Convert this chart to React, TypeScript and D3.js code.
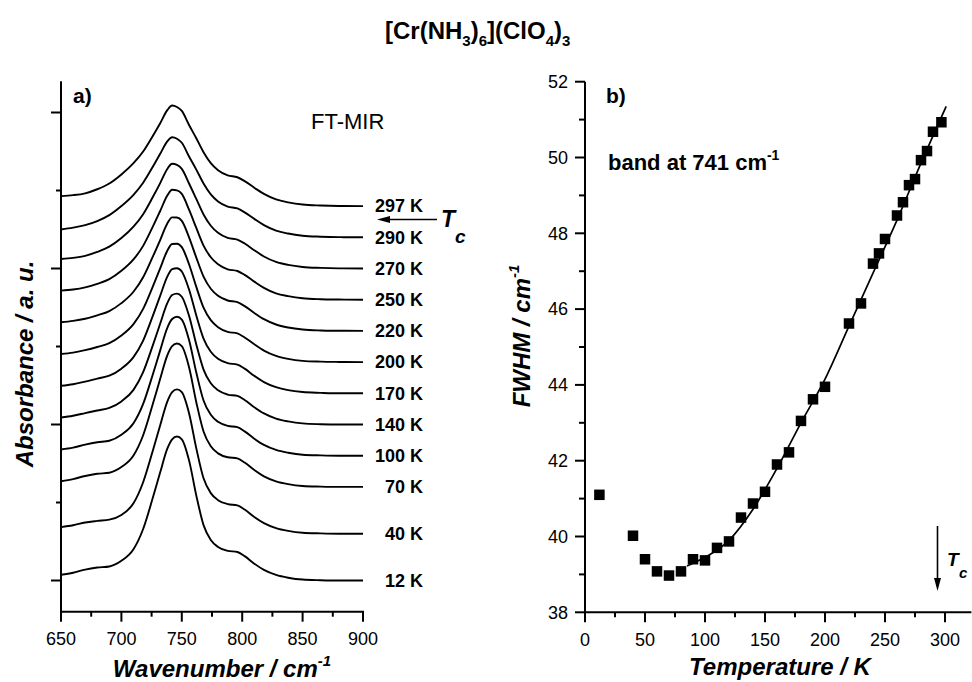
import React from 'react';
import * as d3 from 'd3';

// wavenumber grid (cm-1) the spectra were read at
const wavenumbers = [650, 660, 670, 680, 690, 700, 710, 718, 726, 732, 738, 742, 746, 750, 756, 762, 768, 774, 780, 788, 796, 802, 810, 818, 828, 838, 850, 865, 880, 900];

const tempLabels = ['297 K', '290 K', '270 K', '250 K', '220 K', '200 K', '170 K', '140 K', '100 K', '70 K', '40 K', '12 K'];
const offsets = [2.4, 2.2, 2.0, 1.8, 1.6, 1.4, 1.2, 1.0, 0.8, 0.6, 0.3, 0.0];

// absorbance above each trace's own baseline
const abs297 = [.064, .07, .082, .108, .145, .203, .275, .35, .45, .53, .615, .645, .635, .61, .52, .435, .345, .275, .23, .197, .185, .16, .118, .078, .043, .024, .01, .004, .001, 0];
const abs290 = [.05, .062, .078, .104, .142, .2, .272, .35, .452, .534, .615, .641, .632, .606, .518, .434, .345, .275, .23, .197, .185, .16, .118, .078, .043, .024, .01, .004, .001, 0];
const abs270 = [.061, .068, .081, .106, .14, .195, .268, .348, .458, .546, .638, .671, .664, .639, .545, .446, .346, .274, .229, .196, .185, .16, .117, .077, .042, .023, .01, .004, .001, 0];
const abs250 = [.058, .065, .079, .102, .132, .185, .258, .345, .468, .567, .668, .705, .701, .678, .577, .46, .347, .272, .227, .195, .184, .159, .116, .076, .041, .023, .009, .003, .001, 0];
const abs220 = [.055, .064, .078, .1, .127, .178, .251, .344, .476, .581, .689, .728, .727, .705, .6, .47, .348, .27, .225, .195, .184, .159, .115, .075, .041, .022, .009, .003, .001, 0];
const abs200 = [.052, .061, .077, .097, .121, .17, .243, .341, .484, .599, .714, .757, .759, .737, .627, .482, .349, .269, .224, .194, .184, .158, .114, .074, .04, .021, .008, .003, .001, 0];
const abs170 = [.048, .058, .075, .094, .113, .158, .232, .338, .496, .623, .748, .796, .802, .781, .665, .499, .351, .266, .221, .193, .184, .158, .112, .072, .039, .02, .008, .003, 0, 0];
const abs140 = [.045, .056, .073, .09, .106, .148, .222, .336, .507, .644, .778, .83, .839, .819, .697, .513, .352, .264, .219, .192, .183, .157, .111, .071, .038, .02, .007, .002, 0, 0];
const abs100 = [.04, .052, .071, .086, .096, .134, .208, .332, .521, .672, .82, .876, .891, .873, .742, .533, .354, .262, .217, .191, .183, .156, .109, .069, .037, .019, .006, .002, 0, 0];
const abs70 = [.036, .05, .07, .084, .091, .127, .201, .331, .531, .69, .843, .902, .919, .902, .767, .543, .355, .26, .215, .19, .183, .156, .108, .068, .036, .018, .006, .002, 0, 0];
const abs40 = [.042, .054, .072, .082, .09, .12, .195, .33, .532, .692, .847, .908, .925, .907, .772, .547, .355, .26, .215, .19, .182, .155, .107, .068, .036, .018, .006, .002, 0, 0];
const abs12 = [.037, .05, .07, .083, .09, .126, .2, .33, .53, .69, .845, .905, .923, .905, .77, .545, .355, .26, .215, .19, .183, .156, .108, .068, .036, .018, .006, .002, 0, 0];

const spectra = [abs297, abs290, abs270, abs250, abs220, abs200, abs170, abs140, abs100, abs70, abs40, abs12];

// panel b: FWHM of the 741 cm-1 band
const tempK = [12, 40, 50, 60, 70, 80, 90, 100, 110, 120, 130, 140, 150, 160, 170, 180, 190, 200, 220, 230, 240, 245, 250, 260, 265, 270, 275, 280, 285, 290, 297];
const fwhm = [41.1, 40.02, 39.4, 39.08, 38.97, 39.08, 39.4, 39.37, 39.7, 39.87, 40.5, 40.87, 41.18, 41.9, 42.22, 43.05, 43.62, 43.95, 45.62, 46.15, 47.2, 47.47, 47.85, 48.47, 48.82, 49.27, 49.43, 49.93, 50.17, 50.68, 50.93];

const fitT = [85, 100, 120, 140, 160, 180, 200, 220, 240, 260, 280, 301];
const fitW = [39.22, 39.45, 39.9, 40.72, 41.8, 43.0, 44.15, 45.55, 46.95, 48.35, 49.85, 51.35];

const font = '"Liberation Sans", Arial, sans-serif';

export default function App() {
  // panel a scales
  const xa = d3.scaleLinear().domain([650, 900]).range([61, 363]);
  const ya = d3.scaleLinear().domain([-0.2, 3.2]).range([611.7, 81.3]);
  // panel b scales
  const xb = d3.scaleLinear().domain([0, 322]).range([585, 971.4]);
  const yb = d3.scaleLinear().domain([38, 52]).range([612.3, 81.7]);

  const specLine = (vals: number[], off: number) =>
    d3.line<number>()
      .x((d, i) => xa(wavenumbers[i]))
      .y(d => ya(d + off))
      .curve(d3.curveMonotoneX)(vals);

  const fitLine = d3.line<number>()
    .x((d, i) => xb(fitT[i]))
    .y(d => yb(d))
    .curve(d3.curveMonotoneX)(fitW);

  const xaMajor = d3.range(650, 901, 50);
  const xaMinor = d3.range(675, 900, 50);
  const yaMajor = [0, 1, 2, 3];
  const yaMinor = [0.5, 1.5, 2.5];
  const xbMajor = d3.range(0, 301, 50);
  const xbMinor = d3.range(25, 322, 50);
  const ybMajor = d3.range(38, 53, 2);
  const ybMinor = d3.range(39, 52, 2);

  const sq = 10.5;

  return (
    <svg width={972} height={682} style={{ position: 'absolute', left: 0, top: 0, background: '#fff' }}
      fontFamily={font}>
      {/* title */}
      <text x={385} y={39} fontSize={24} fontWeight="bold">
        [Cr(NH<tspan fontSize={15} dy={7}>3</tspan><tspan dy={-7}>)</tspan><tspan fontSize={15} dy={7}>6</tspan><tspan dy={-7}>](ClO</tspan><tspan fontSize={15} dy={7}>4</tspan><tspan dy={-7}>)</tspan><tspan fontSize={15} dy={7}>3</tspan>
      </text>

      {/* ---- panel a ---- */}
      <g stroke="#000" strokeWidth={2} fill="none">
        <line x1={xa(650)} x2={xa(650)} y1={ya(3.2)} y2={ya(-0.2) + 1} />
        <line x1={xa(650) - 1} x2={xa(900) + 1} y1={ya(-0.2)} y2={ya(-0.2)} />
        {xaMajor.map(v => <line key={'xam' + v} x1={xa(v)} x2={xa(v)} y1={ya(-0.2)} y2={ya(-0.2) + 10} />)}
        {xaMinor.map(v => <line key={'xan' + v} x1={xa(v)} x2={xa(v)} y1={ya(-0.2)} y2={ya(-0.2) + 5} />)}
        {yaMajor.map(v => <line key={'yam' + v} x1={xa(650) - 10} x2={xa(650)} y1={ya(v)} y2={ya(v)} />)}
        {yaMinor.map(v => <line key={'yan' + v} x1={xa(650) - 5} x2={xa(650)} y1={ya(v)} y2={ya(v)} />)}
      </g>
      {xaMajor.map(v => (
        <text key={'xal' + v} x={xa(v)} y={645} fontSize={18} textAnchor="middle">{v}</text>
      ))}
      <g fill="none" stroke="#000" strokeWidth={1.9}>
        {spectra.map((s, i) => <path key={'sp' + i} d={specLine(s, offsets[i]) || ''} />)}
      </g>
      {tempLabels.map((t, i) => (
        <text key={'tl' + t} x={423} y={ya(offsets[i])} dy="0.35em" fontSize={18} fontWeight="bold" textAnchor="end">{t}</text>
      ))}
      <text x={73} y={103} fontSize={21} fontWeight="bold">a)</text>
      <text x={311} y={129} fontSize={22}>FT-MIR</text>
      {/* Tc arrow (left) */}
      <line x1={437} x2={388} y1={219.5} y2={219.5} stroke="#000" strokeWidth={1.6} />
      <path d="M377,219.5 L390,216 L390,223 Z" fill="#000" />
      <text x={441} y={227} fontSize={23} fontWeight="bold" fontStyle="italic">T</text>
      <text x={455} y={243} fontSize={19} fontWeight="bold" fontStyle="italic">c</text>
      <text transform="translate(33,364) rotate(-90)" fontSize={24} fontWeight="bold" fontStyle="italic" textAnchor="middle">Absorbance / a. u.</text>
      <text x={222} y={677} fontSize={24} fontWeight="bold" fontStyle="italic" textAnchor="middle">
        Wavenumber / cm<tspan fontSize={15} dy={-11}>-1</tspan>
      </text>

      {/* ---- panel b ---- */}
      <g stroke="#000" strokeWidth={2} fill="none">
        <line x1={xb(0)} x2={xb(0)} y1={yb(52)} y2={yb(38) + 1} />
        <line x1={xb(0) - 1} x2={xb(322)} y1={yb(38)} y2={yb(38)} />
        {xbMajor.map(v => <line key={'xbm' + v} x1={xb(v)} x2={xb(v)} y1={yb(38)} y2={yb(38) + 10} />)}
        {xbMinor.map(v => <line key={'xbn' + v} x1={xb(v)} x2={xb(v)} y1={yb(38)} y2={yb(38) + 5} />)}
        {ybMajor.map(v => <line key={'ybm' + v} x1={xb(0) - 10} x2={xb(0)} y1={yb(v)} y2={yb(v)} />)}
        {ybMinor.map(v => <line key={'ybn' + v} x1={xb(0) - 6} x2={xb(0)} y1={yb(v)} y2={yb(v)} />)}
      </g>
      {xbMajor.map(v => (
        <text key={'xbl' + v} x={xb(v)} y={646} fontSize={18} textAnchor="middle">{v}</text>
      ))}
      {ybMajor.map(v => (
        <text key={'ybl' + v} x={568} y={yb(v)} dy="0.35em" fontSize={18} textAnchor="end">{v}</text>
      ))}
      <path d={fitLine || ''} fill="none" stroke="#000" strokeWidth={1.7} />
      {tempK.map((t, i) => (
        <rect key={'pt' + t} x={xb(t) - sq / 2} y={yb(fwhm[i]) - sq / 2} width={sq} height={sq} fill="#000" />
      ))}
      <text x={606} y={103} fontSize={21} fontWeight="bold">b)</text>
      <text x={608} y={170} fontSize={22} fontWeight="bold">
        band at 741 cm<tspan fontSize={14} dy={-10}>-1</tspan>
      </text>
      {/* Tc arrow (right) */}
      <line x1={937.5} x2={937.5} y1={526} y2={580} stroke="#000" strokeWidth={1.6} />
      <path d="M937.5,591 L934,578 L941,578 Z" fill="#000" />
      <text x={947} y={566} fontSize={19} fontWeight="bold" fontStyle="italic">T</text>
      <text x={959} y={578} fontSize={15} fontWeight="bold" fontStyle="italic">c</text>
      <text transform="translate(530,336) rotate(-90)" fontSize={24} fontWeight="bold" fontStyle="italic" textAnchor="middle">
        FWHM / cm<tspan fontSize={15} dy={-11}>-1</tspan>
      </text>
      <text x={780} y={675} fontSize={24} fontWeight="bold" fontStyle="italic" textAnchor="middle">Temperature / K</text>
    </svg>
  );
}
